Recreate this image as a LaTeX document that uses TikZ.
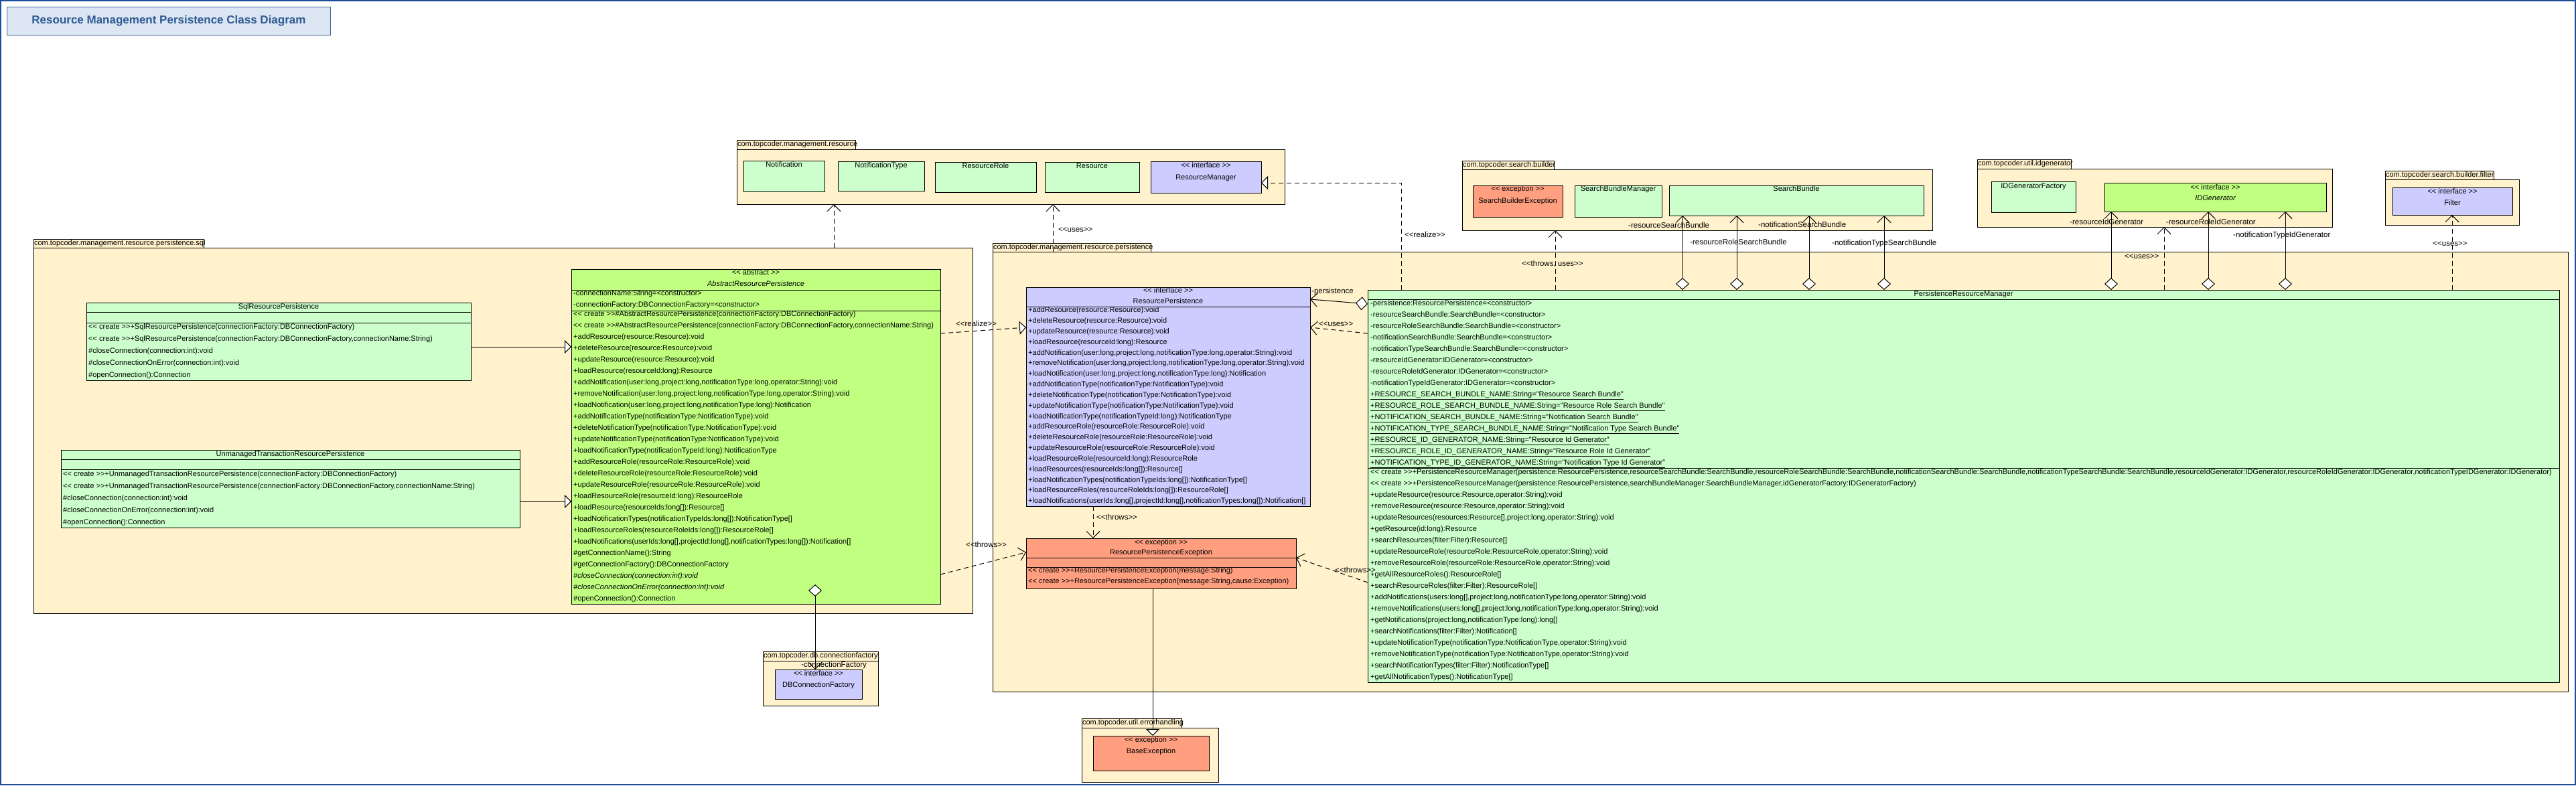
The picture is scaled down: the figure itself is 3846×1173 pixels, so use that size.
\documentclass[tikz,border=0pt]{standalone}
\usepackage{fontspec}
\newfontfamily\umlfont{Liberation Sans}
\usetikzlibrary{arrows.meta}

\definecolor{pkgfill}{HTML}{FFF2CC}
\definecolor{clsfill}{HTML}{CCFFCC}
\definecolor{ifcfill}{HTML}{CCCCFF}
\definecolor{absfill}{HTML}{C0FF80}
\definecolor{excfill}{HTML}{FF9F80}
\definecolor{titlefill}{HTML}{DCE6F2}
\definecolor{titleline}{HTML}{3B659B}
\definecolor{titletext}{HTML}{2F5A94}
\definecolor{frameblue}{HTML}{1C4C9C}

\tikzset{
  pkg/.style={draw, fill=pkgfill, line width=1pt, inner sep=0, outer sep=0, anchor=north west},
  pkgtab/.style={draw, fill=pkgfill, line width=1pt, outer sep=0, anchor=north west, inner xsep=1pt, inner ysep=0pt,
    minimum height=14pt, text height=8pt, text depth=2.5pt, align=left, font=\umlfont\fontsize{11}{13}\selectfont},
  cls/.style={draw, line width=1pt, inner sep=0, outer sep=0, anchor=north west},
  head/.style={inner sep=0, text height=8pt, text depth=2.5pt, font=\umlfont\fontsize{11}{13}\selectfont},
  member/.style={head, anchor=west},
  lbl/.style={anchor=west, inner sep=0, text height=8.5pt, text depth=2.5pt, font=\umlfont\fontsize{11.5}{13}\selectfont},
  conn/.style={line width=1pt},
  gen/.style={conn, -{Triangle[fill=white,length=10pt,width=20pt]}},
  realize/.style={conn, dash pattern=on 7pt off 5pt, -{Triangle[fill=white,length=10pt,width=20pt]}},
  depend/.style={conn, dash pattern=on 7pt off 5pt, -{Straight Barb[length=10pt,width=20pt]}},
  assoc/.style={conn, {Diamond[fill=white,length=18pt,width=20pt]}-{Straight Barb[length=10pt,width=20pt]}},
}

\begin{document}
\begin{tikzpicture}[x=1pt,y=-1pt]
\useasboundingbox (0,0) rectangle (3846,1173);
\fill[white] (0,0) rectangle (3846,1173);
\draw[frameblue, line width=2pt] (1,1) rectangle (3845,1172);

% title
\node[draw=titleline, fill=titlefill, line width=1pt, minimum width=483, minimum height=42, inner sep=0,
  anchor=north west, text=titletext, font=\umlfont\bfseries\fontsize{17}{20}\selectfont] (title) at (10,10)
  {Resource Management Persistence Class Diagram};

% packages
\node[pkgtab, text width=175] (respkg-tab) at (1100,209) {com.topcoder.management.resource};
\node[pkg, minimum width=818, minimum height=82] (respkg) at (1100,223) {};
\node[pkgtab, text width=135] (sbpkg-tab) at (2183,240) {com.topcoder.search.builder};
\node[pkg, minimum width=702, minimum height=91] (sbpkg) at (2183,253) {};
\node[pkgtab, text width=138] (idpkg-tab) at (2952,238) {com.topcoder.util.idgenerator};
\node[pkg, minimum width=530, minimum height=87] (idpkg) at (2952,252) {};
\node[pkgtab, text width=160] (filterpkg-tab) at (3561,255) {com.topcoder.search.builder.filter};
\node[pkg, minimum width=200, minimum height=68] (filterpkg) at (3561,268) {};
\node[pkgtab, text width=252] (sqlpkg-tab) at (50,357) {com.topcoder.management.resource.persistence.sql};
\node[pkg, minimum width=1402, minimum height=546] (sqlpkg) at (50,370) {};
\node[pkgtab, text width=234] (perpkg-tab) at (1482,363) {com.topcoder.management.resource.persistence};
\node[pkg, minimum width=2352, minimum height=657] (perpkg) at (1482,376) {};
\node[pkgtab, text width=170] (dbpkg-tab) at (1139,973) {com.topcoder.db.connectionfactory};
\node[pkg, minimum width=172, minimum height=67] (dbpkg) at (1139,987) {};
\node[pkgtab, text width=147] (errpkg-tab) at (1615,1073) {com.topcoder.util.errorhandling};
\node[pkg, minimum width=204, minimum height=81] (errpkg) at (1615,1087) {};

% com.topcoder.management.resource
\node[cls, fill=clsfill, minimum width=121, minimum height=46] (notif) at (1110,240) {};
\node[head] (notif-name) at (1170.5,247) {Notification};
\node[cls, fill=clsfill, minimum width=129, minimum height=44] (notiftype) at (1251,241) {};
\node[head] (notiftype-name) at (1315.5,248) {NotificationType};
\node[cls, fill=clsfill, minimum width=151, minimum height=45] (resrole) at (1396,242) {};
\node[head] (resrole-name) at (1471.5,249) {ResourceRole};
\node[cls, fill=clsfill, minimum width=141, minimum height=45] (res) at (1560,242) {};
\node[head] (res-name) at (1630.5,249) {Resource};
\node[cls, fill=ifcfill, minimum width=165, minimum height=47] (resmgr) at (1718,241) {};
\node[head] (resmgr-st) at (1800.5,248) {<< interface >>};
\node[head] (resmgr-name) at (1800.5,266) {ResourceManager};

% com.topcoder.search.builder
\node[cls, fill=excfill, minimum width=134, minimum height=47] (sbexc) at (2199,277) {};
\node[head] (sbexc-st) at (2266,283) {<< exception >>};
\node[head] (sbexc-name) at (2266,301) {SearchBuilderException};
\node[cls, fill=clsfill, minimum width=130, minimum height=47] (sbmgr) at (2351,277) {};
\node[head] (sbmgr-name) at (2416,283) {SearchBundleManager};
\node[cls, fill=clsfill, minimum width=380, minimum height=45] (sbundle) at (2492,277) {};
\node[head] (sbundle-name) at (2682,283) {SearchBundle};

% com.topcoder.util.idgenerator
\node[cls, fill=clsfill, minimum width=126, minimum height=46] (idfact) at (2973,271) {};
\node[head] (idfact-name) at (3036,279) {IDGeneratorFactory};
\node[cls, fill=absfill, minimum width=331, minimum height=43] (idgen) at (3142,273) {};
\node[head] (idgen-st) at (3307.5,281) {<< interface >>};
\node[head, font=\umlfont\itshape\fontsize{11}{13}\selectfont] (idgen-name) at (3307.5,297) {IDGenerator};

% com.topcoder.search.builder.filter
\node[cls, fill=ifcfill, minimum width=179, minimum height=41] (filter) at (3572,280) {};
\node[head] (filter-st) at (3661.5,287) {<< interface >>};
\node[head] (filter-name) at (3661.5,304) {Filter};

% com.topcoder.db.connectionfactory
\node[cls, fill=ifcfill, minimum width=130, minimum height=44] (dbcf) at (1157,1000) {};
\node[head] (dbcf-st) at (1222,1007) {<< interface >>};
\node[head] (dbcf-name) at (1222,1024) {DBConnectionFactory};

% com.topcoder.util.errorhandling
\node[cls, fill=excfill, minimum width=173, minimum height=52] (baseexc) at (1632,1099) {};
\node[head] (baseexc-st) at (1718.5,1106) {<< exception >>};
\node[head] (baseexc-name) at (1718.5,1123) {BaseException};

% persistence.sql
\node[cls, fill=clsfill, minimum width=574, minimum height=116] (sqlrp) at (129,452) {};
\draw[conn] (129,466) -- (703,466) (129,482) -- (703,482);
\node[head] (sqlrp-name) at (416,459) {SqlResourcePersistence};
\foreach \m [count=\i] in {
  {<< create >>+SqlResourcePersistence(connectionFactory:DBConnectionFactory)},
  {<< create >>+SqlResourcePersistence(connectionFactory:DBConnectionFactory,connectionName:String)},
  {\#closeConnection(connection:int):void},
  {\#closeConnectionOnError(connection:int):void},
  {\#openConnection():Connection}}
  \node[member] (sqlrp-m\i) at (132,{489+18*(\i-1)}) {\m};

\node[cls, fill=clsfill, minimum width=685, minimum height=116] (utrp) at (91,672) {};
\draw[conn] (91,686) -- (776,686) (91,701) -- (776,701);
\node[head] (utrp-name) at (433.5,679) {UnmanagedTransactionResourcePersistence};
\foreach \m [count=\i] in {
  {<< create >>+UnmanagedTransactionResourcePersistence(connectionFactory:DBConnectionFactory)},
  {<< create >>+UnmanagedTransactionResourcePersistence(connectionFactory:DBConnectionFactory,connectionName:String)},
  {\#closeConnection(connection:int):void},
  {\#closeConnectionOnError(connection:int):void},
  {\#openConnection():Connection}}
  \node[member] (utrp-m\i) at (94,{709+18*(\i-1)}) {\m};

\node[cls, fill=absfill, minimum width=551, minimum height=500] (abs) at (853,402) {};
\draw[conn] (853,433) -- (1404,433) (853,464) -- (1404,464);
\node[head] (abs-st) at (1128.5,408) {<< abstract >>};
\node[head, font=\umlfont\itshape\fontsize{11}{13}\selectfont] (abs-name) at (1128.5,425) {AbstractResourcePersistence};
\node[member] (abs-a1) at (856,439) {-connectionName:String=<constructor>};
\node[member] (abs-a2) at (856,456) {-connectionFactory:DBConnectionFactory=<constructor>};
\foreach \m [count=\i] in {
  {<< create >>\#AbstractResourcePersistence(connectionFactory:DBConnectionFactory)},
  {<< create >>\#AbstractResourcePersistence(connectionFactory:DBConnectionFactory,connectionName:String)},
  {+addResource(resource:Resource):void},
  {+deleteResource(resource:Resource):void},
  {+updateResource(resource:Resource):void},
  {+loadResource(resourceId:long):Resource},
  {+addNotification(user:long,project:long,notificationType:long,operator:String):void},
  {+removeNotification(user:long,project:long,notificationType:long,operator:String):void},
  {+loadNotification(user:long,project:long,notificationType:long):Notification},
  {+addNotificationType(notificationType:NotificationType):void},
  {+deleteNotificationType(notificationType:NotificationType):void},
  {+updateNotificationType(notificationType:NotificationType):void},
  {+loadNotificationType(notificationTypeId:long):NotificationType},
  {+addResourceRole(resourceRole:ResourceRole):void},
  {+deleteResourceRole(resourceRole:ResourceRole):void},
  {+updateResourceRole(resourceRole:ResourceRole):void},
  {+loadResourceRole(resourceId:long):ResourceRole},
  {+loadResource(resourceIds:long[]):Resource[]},
  {+loadNotificationTypes(notificationTypeIds:long[]):NotificationType[]},
  {+loadResourceRoles(resourceRoleIds:long[]):ResourceRole[]},
  {+loadNotifications(userIds:long[],projectId:long[],notificationTypes:long[]):Notification[]},
  {\#getConnectionName():String},
  {\#getConnectionFactory():DBConnectionFactory},
  {\itshape\#closeConnection(connection:int):void},
  {\itshape\#closeConnectionOnError(connection:int):void},
  {\#openConnection():Connection}}
  \node[member] (abs-m\i) at (856,{470+17*(\i-1)}) {\m};

% persistence
\node[cls, fill=ifcfill, minimum width=424, minimum height=327] (rp) at (1532,429) {};
\draw[conn] (1532,458) -- (1956,458);
\node[head] (rp-st) at (1744,435) {<< interface >>};
\node[head] (rp-name) at (1744,451) {ResourcePersistence};
\foreach \m [count=\i] in {
  {+addResource(resource:Resource):void},
  {+deleteResource(resource:Resource):void},
  {+updateResource(resource:Resource):void},
  {+loadResource(resourceId:long):Resource},
  {+addNotification(user:long,project:long,notificationType:long,operator:String):void},
  {+removeNotification(user:long,project:long,notificationType:long,operator:String):void},
  {+loadNotification(user:long,project:long,notificationType:long):Notification},
  {+addNotificationType(notificationType:NotificationType):void},
  {+deleteNotificationType(notificationType:NotificationType):void},
  {+updateNotificationType(notificationType:NotificationType):void},
  {+loadNotificationType(notificationTypeId:long):NotificationType},
  {+addResourceRole(resourceRole:ResourceRole):void},
  {+deleteResourceRole(resourceRole:ResourceRole):void},
  {+updateResourceRole(resourceRole:ResourceRole):void},
  {+loadResourceRole(resourceId:long):ResourceRole},
  {+loadResources(resourceIds:long[]):Resource[]},
  {+loadNotificationTypes(notificationTypeIds:long[]):NotificationType[]},
  {+loadResourceRoles(resourceRoleIds:long[]):ResourceRole[]},
  {+loadNotifications(userIds:long[],projectId:long[],notificationTypes:long[]):Notification[]}}
  \node[member] (rp-m\i) at (1535,{464+15.83*(\i-1)}) {\m};

\node[cls, fill=excfill, minimum width=403, minimum height=75] (rpexc) at (1532,804) {};
\draw[conn] (1532,833) -- (1935,833) (1532,847) -- (1935,847);
\node[head] (rpexc-st) at (1733.5,811) {<< exception >>};
\node[head] (rpexc-name) at (1733.5,826) {ResourcePersistenceException};
\node[member] (rpexc-m1) at (1535,853) {<< create >>+ResourcePersistenceException(message:String)};
\node[member] (rpexc-m2) at (1535,869) {<< create >>+ResourcePersistenceException(message:String,cause:Exception)};

\node[cls, fill=clsfill, minimum width=1779, minimum height=586] (prm) at (2042,433) {};
\draw[conn] (2042,447) -- (3821,447) (2042,699) -- (3821,699);
\node[head] (prm-name) at (2931.5,440) {PersistenceResourceManager};
\foreach \m [count=\i] in {
  {-persistence:ResourcePersistence=<constructor>},
  {-resourceSearchBundle:SearchBundle=<constructor>},
  {-resourceRoleSearchBundle:SearchBundle=<constructor>},
  {-notificationSearchBundle:SearchBundle=<constructor>},
  {-notificationTypeSearchBundle:SearchBundle=<constructor>},
  {-resourceIdGenerator:IDGenerator=<constructor>},
  {-resourceRoleIdGenerator:IDGenerator=<constructor>},
  {-notificationTypeIdGenerator:IDGenerator=<constructor>},
  {\underline{+RESOURCE\_SEARCH\_BUNDLE\_NAME:String="Resource Search Bundle"}},
  {\underline{+RESOURCE\_ROLE\_SEARCH\_BUNDLE\_NAME:String="Resource Role Search Bundle"}},
  {\underline{+NOTIFICATION\_SEARCH\_BUNDLE\_NAME:String="Notification Search Bundle"}},
  {\underline{+NOTIFICATION\_TYPE\_SEARCH\_BUNDLE\_NAME:String="Notification Type Search Bundle"}},
  {\underline{+RESOURCE\_ID\_GENERATOR\_NAME:String="Resource Id Generator"}},
  {\underline{+RESOURCE\_ROLE\_ID\_GENERATOR\_NAME:String="Resource Role Id Generator"}},
  {\underline{+NOTIFICATION\_TYPE\_ID\_GENERATOR\_NAME:String="Notification Type Id Generator"}}}
  \node[member] (prm-a\i) at (2046,{454+17*(\i-1)}) {\m};
\foreach \m [count=\i] in {
  {<< create >>+PersistenceResourceManager(persistence:ResourcePersistence,resourceSearchBundle:SearchBundle,resourceRoleSearchBundle:SearchBundle,notificationSearchBundle:SearchBundle,notificationTypeSearchBundle:SearchBundle,resourceIdGenerator:IDGenerator,resourceRoleIdGenerator:IDGenerator,notificationTypeIDGenerator:IDGenerator)},
  {<< create >>+PersistenceResourceManager(persistence:ResourcePersistence,searchBundleManager:SearchBundleManager,idGeneratorFactory:IDGeneratorFactory)},
  {+updateResource(resource:Resource,operator:String):void},
  {+removeResource(resource:Resource,operator:String):void},
  {+updateResources(resources:Resource[],project:long,operator:String):void},
  {+getResource(id:long):Resource},
  {+searchResources(filter:Filter):Resource[]},
  {+updateResourceRole(resourceRole:ResourceRole,operator:String):void},
  {+removeResourceRole(resourceRole:ResourceRole,operator:String):void},
  {+getAllResourceRoles():ResourceRole[]},
  {+searchResourceRoles(filter:Filter):ResourceRole[]},
  {+addNotifications(users:long[],project:long,notificationType:long,operator:String):void},
  {+removeNotifications(users:long[],project:long,notificationType:long,operator:String):void},
  {+getNotifications(project:long,notificationType:long):long[]},
  {+searchNotifications(filter:Filter):Notification[]},
  {+updateNotificationType(notificationType:NotificationType,operator:String):void},
  {+removeNotificationType(notificationType:NotificationType,operator:String):void},
  {+searchNotificationTypes(filter:Filter):NotificationType[]},
  {+getAllNotificationTypes():NotificationType[]}}
  \node[member] (prm-m\i) at (2046,{706+17*(\i-1)}) {\m};

% connectors
\draw[gen] ([yshift=-8pt]sqlrp.east) -- ([yshift=-8pt]sqlrp.east -| abs.west);
\draw[gen] ([yshift=-19pt]utrp.east) -- ([yshift=-19pt]utrp.east -| abs.west);
\draw[realize] ([yshift=154pt]abs.east) -- ([yshift=103.5pt]rp.west);
\node[lbl] (abs-realize) at (1427,484) {<<realize>>};
\draw[depend] ([yshift=-206pt]abs.east) -- ([yshift=16.5pt]rpexc.west);
\node[lbl, anchor=east] (abs-throws) at (1503,814) {<<throws>>};
\draw[depend] ([xshift=-112pt]rp.south) -- ([xshift=-112pt]rp.south |- rpexc.north);
\node[lbl] (rp-throws) at (1637,773) {<<throws>>};
\draw[gen] ([xshift=-12.5pt]rpexc.south) -- ([xshift=-12.5pt]rpexc.south |- baseexc.north);
\draw[assoc] ([yshift=272pt]prm.west) -- ([yshift=145.5pt]rp.east);
\node[lbl] (prm-persistence) at (1958,435) {-persistence};
\draw[depend] ([yshift=228pt]prm.west) -- ([yshift=103.5pt]rp.east);
\node[lbl] (prm-uses) at (1969,484) {<<uses>>};
\draw[depend] ([yshift=-144pt]prm.west) -- ([yshift=8.5pt]rpexc.east);
\node[lbl] (prm-throws) at (1993,852) {<<throws>>};
\draw[assoc] ([xshift=88.5pt,yshift=29pt]abs.south) -- ([xshift=88.5pt]abs.south |- dbcf.north);
\node[lbl] (abs-factory) at (1196,993) {-connectionFactory};
\draw[depend] ([xshift=494pt]sqlpkg.north) -- ([xshift=494pt]sqlpkg.north |- respkg.south);
\draw[depend] ([xshift=-1086pt]perpkg.north) -- ([xshift=-1086pt]perpkg.north |- respkg.south);
\node[lbl] (perpkg-uses) at (1580,343) {<<uses>>};
\draw[realize] ([xshift=-839.5pt]prm.north) |- ([yshift=-8.5pt]resmgr.east);
\node[lbl] (prm-realize) at (2097,351) {<<realize>>};
\draw[depend] ([xshift=-609.5pt]prm.north) -- ([xshift=-609.5pt]prm.north |- sbpkg.south);
\node[lbl] (prm-sbuses) at (2272,394) {<<throws, uses>>};
\draw[assoc] ([xshift=-419.5pt]prm.north) -- ([xshift=-419.5pt]prm.north |- sbundle.south);
\node[lbl] (prm-rsb) at (2431,337) {-resourceSearchBundle};
\draw[assoc] ([xshift=-338.5pt]prm.north) -- ([xshift=-338.5pt]prm.north |- sbundle.south);
\node[lbl] (prm-rrsb) at (2523,362) {-resourceRoleSearchBundle};
\draw[assoc] ([xshift=-230.5pt]prm.north) -- ([xshift=-230.5pt]prm.north |- sbundle.south);
\node[lbl] (prm-nsb) at (2625,336) {-notificationSearchBundle};
\draw[assoc] ([xshift=-118.5pt]prm.north) -- ([xshift=-118.5pt]prm.north |- sbundle.south);
\node[lbl] (prm-ntsb) at (2735,363) {-notificationTypeSearchBundle};
\draw[assoc] ([xshift=220.5pt]prm.north) -- ([xshift=220.5pt]prm.north |- idgen.south);
\node[lbl] (prm-rig) at (3090,332) {-resourceIdGenerator};
\draw[assoc] ([xshift=365.5pt]prm.north) -- ([xshift=365.5pt]prm.north |- idgen.south);
\node[lbl] (prm-rrig) at (3234,332) {-resourceRoleIdGenerator};
\draw[assoc] ([xshift=480.5pt]prm.north) -- ([xshift=480.5pt]prm.north |- idgen.south);
\node[lbl] (prm-ntig) at (3334,351) {-notificationTypeIdGenerator};
\draw[depend] ([xshift=299.5pt]prm.north) -- ([xshift=299.5pt]prm.north |- idpkg.south);
\node[lbl] (prm-iduses) at (3172,383) {<<uses>>};
\draw[depend] ([xshift=729.5pt]prm.north) -- ([xshift=729.5pt]prm.north |- filter.south);
\node[lbl, anchor=center] (prm-filteruses) at (3658,364) {<<uses>>};
\end{tikzpicture}
\end{document}
